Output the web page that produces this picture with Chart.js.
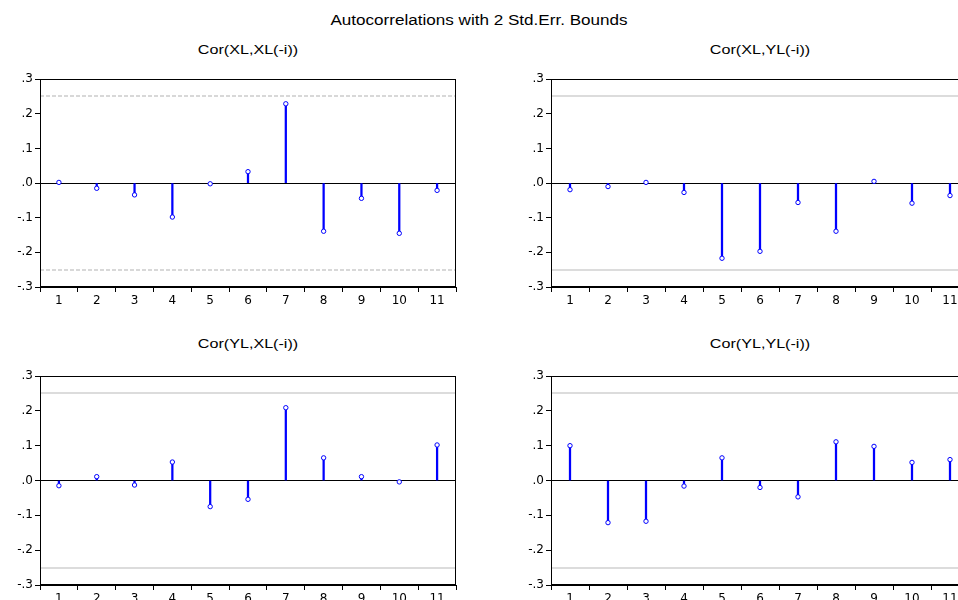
<!DOCTYPE html>
<html>
<head>
<meta charset="utf-8">
<script src="https://cdn.jsdelivr.net/npm/chart.js@4"></script>
<style>
  html, body { margin: 0; padding: 0; background: #fff; }
  body { width: 958px; height: 600px; overflow: hidden; position: relative; font-family: "Liberation Sans", Arial, sans-serif; }
  .title { position: absolute; text-align: center; color: #000; white-space: nowrap; transform-origin: 50% 50%; }
  canvas { position: absolute; }
</style>
</head>
<body>
<div class="title" style="left:0; width:958px; top:12px; font-size:14px; transform:scaleX(1.22);">Autocorrelations with 2 Std.Err. Bounds</div>
<div class="title" style="left:40px; width:416px; top:42px; font-size:13px; transform:scaleX(1.24);">Cor(XL,XL(-i))</div>
<div class="title" style="left:551px; width:418px; top:42px; font-size:13px; transform:scaleX(1.24);">Cor(XL,YL(-i))</div>
<div class="title" style="left:40px; width:416px; top:336px; font-size:13px; transform:scaleX(1.24);">Cor(YL,XL(-i))</div>
<div class="title" style="left:551px; width:418px; top:336px; font-size:13px; transform:scaleX(1.24);">Cor(YL,YL(-i))</div>

<canvas id="c1" style="left:0; top:70px;"></canvas>
<canvas id="c2" style="left:480px; top:70px;"></canvas>
<canvas id="c3" style="left:0; top:360px;"></canvas>
<canvas id="c4" style="left:480px; top:360px;"></canvas>

<script>
// lags and correlations
const lags = ['1', '2', '3', '4', '5', '6', '7', '8', '9', '10', '11'];
const corXLXL = [0.002, -0.015, -0.034, -0.098, -0.002, 0.033, 0.229, -0.139, -0.044, -0.145, -0.021];
const corXLYL = [-0.019, -0.010, 0.002, -0.027, -0.217, -0.197, -0.056, -0.139, 0.005, -0.058, -0.036];
const corYLXL = [-0.015, 0.011, -0.013, 0.053, -0.075, -0.054, 0.209, 0.065, 0.011, -0.004, 0.102];
const corYLYL = [0.100, -0.121, -0.117, -0.016, 0.065, -0.020, -0.047, 0.111, 0.098, 0.052, 0.060];
const stdErrBounds = [0.252, -0.252];
const yTickValues = [-0.3, -0.2, -0.1, 0, 0.1, 0.2, 0.3];

const FONT = '"DejaVu Sans", sans-serif';
const BLUE = '#0000ff';

// frame + 2 s.e. bounds
const framePlugin = {
    id: 'frame',
    beforeDatasetsDraw(chart, args, opts) {
        const ctx = chart.ctx;
        const a = chart.chartArea;
        const y = chart.scales.y;
        ctx.save();
        ctx.strokeStyle = opts.dashed ? '#d8d8d8' : '#dcdcdc';
        ctx.lineWidth = 2;
        if (opts.dashed) ctx.setLineDash([4, 2]);
        stdErrBounds.forEach(b => {
            const py = Math.round(y.getPixelForValue(b));
            ctx.beginPath();
            ctx.moveTo(a.left, py);
            ctx.lineTo(a.right, py);
            ctx.stroke();
        });
        ctx.restore();
    },
    afterDraw(chart) {
        const ctx = chart.ctx;
        const a = chart.chartArea;
        ctx.save();
        ctx.strokeStyle = '#000';
        ctx.lineWidth = 1;
        ctx.strokeRect(Math.round(a.left) + 0.5, Math.round(a.top) + 0.5,
            Math.round(a.right - a.left) - 1, Math.round(a.bottom - a.top) - 1);
        ctx.restore();
    }
};

function makeChart(id, values, width, height, padLeft, padRight, padTop, dashed) {
    const canvas = document.getElementById(id);
    canvas.width = width;
    canvas.height = height;
    canvas.style.width = width + 'px';
    canvas.style.height = height + 'px';
    return new Chart(canvas, {
        type: 'bar',
        data: {
            labels: lags,
            datasets: [
                {
                    type: 'line',
                    data: values,
                    showLine: false,
                    pointStyle: 'circle',
                    pointRadius: 2.2,
                    pointBorderWidth: 1,
                    pointBorderColor: BLUE,
                    pointBackgroundColor: '#fff',
                    order: 0
                },
                {
                    data: values,
                    backgroundColor: BLUE,
                    barThickness: 1.6,
                    order: 1
                }
            ]
        },
        options: {
            responsive: false,
            animation: false,
            events: [],
            layout: { padding: { left: padLeft, right: padRight, top: padTop, bottom: 0 } },
            plugins: {
                legend: { display: false },
                tooltip: { enabled: false },
                frame: { dashed: dashed }
            },
            scales: {
                x: {
                    offset: true,
                    grid: {
                        offset: true,
                        drawOnChartArea: false,
                        tickLength: 5,
                        tickColor: '#000',
                        color: '#000'
                    },
                    border: { color: '#000' },
                    ticks: { color: '#000', font: { family: FONT, size: 12 }, padding: 2, maxRotation: 0 },
                    afterFit: s => { s.height = 23; }
                },
                y: {
                    min: -0.3,
                    max: 0.3,
                    afterBuildTicks: s => { s.ticks = yTickValues.map(v => ({ value: v })); },
                    grid: {
                        color: c => (c.tick && Math.abs(c.tick.value) < 1e-9) ? '#000' : 'rgba(0,0,0,0)',
                        tickColor: '#000',
                        tickLength: 5,
                        lineWidth: 1
                    },
                    border: { color: '#000' },
                    ticks: {
                        color: '#000',
                        font: { family: FONT, size: 12 },
                        padding: 2,
                        callback: v => {
                            const n = Math.abs(v) < 1e-9 ? 0 : v;
                            return n.toFixed(1).replace('0.', '.');
                        }
                    },
                    afterFit: s => { s.width = 40; }
                }
            }
        },
        plugins: [framePlugin]
    });
}

makeChart('c1', corXLXL, 470, 240, 0, 14, 7, true);
makeChart('c2', corXLYL, 500, 240, 31, 11, 7, false);
makeChart('c3', corYLXL, 470, 248, 0, 14, 16, false);
makeChart('c4', corYLYL, 500, 248, 31, 11, 16, false);
</script>
</body>
</html>
